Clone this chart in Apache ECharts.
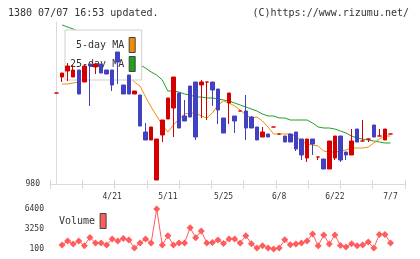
<!DOCTYPE html>
<html>
<head>
<meta charset="utf-8">
<script src="https://cdn.jsdelivr.net/npm/echarts@6/dist/echarts.min.js"></script>
<style>
  html, body { margin: 0; padding: 0; background: #fff; }
  #chart { width: 420px; height: 259px; }
</style>
</head>
<body>
<div id="chart"></div>
<script>
// daily candles, oldest first (red = up, blue = down)
const opens  = [1071,1087,1093,1087,1094,1082,1100,1097,1100,1094,1094,1112,1079,1089,1070,1069,1032,1024,984,1029,1045,1056,1071,1048,1078,1082,1079,1082,1082,1075,1046,1061,1048,1053,1053,1047,1037,1027,1030,1037,1030,1028,1030,1032,1025,1006,1025,1007,1005,995,1006,1028,1012,1009,1035,1023,1025,1039,1028,1024,1030]
const closes = [1071,1091,1098,1094,1070,1098,1098,1100,1091,1090,1079,1102,1070,1070,1073,1038,1024,1037,1025,1044,1066,1087,1036,1043,1047,1027,1082,1082,1074,1054,1031,1071,1043,1053,1036,1036,1024,1032,1027,1037,1030,1022,1022,1015,1009,1025,1020,1007,995,1023,1028,1004,1009,1023,1022,1023,1025,1027,1028,1035,1030]
const lows   = [1071,1082,1083,1087,1070,1082,1058,1090,1091,1090,1073,1080,1070,1070,1070,1038,1024,1024,984,1022,1045,1027,1036,1043,1047,1024,1046,1044,1058,1040,1031,1040,1031,1053,1024,1036,1024,1027,1027,1037,1030,1022,1022,1013,1004,1002,1009,1004,995,995,1004,1002,1004,1009,1022,1023,1022,1027,1028,1024,1030]
const highs  = [1071,1091,1101,1099,1094,1099,1100,1101,1100,1094,1094,1112,1079,1089,1073,1069,1041,1037,1025,1044,1066,1087,1071,1064,1078,1082,1084,1082,1082,1075,1046,1071,1048,1053,1069,1048,1037,1037,1030,1037,1030,1028,1030,1032,1025,1025,1025,1007,1005,1023,1028,1028,1012,1035,1035,1044,1025,1039,1035,1035,1030]

const ma5  = [null,1080,1080,1081,1082,1090,1092,1092,1091,1095,1092,1092,1089,1088,1082,1078,1067,1057,1048,1039,1032,1039,1045,1050,1051,1051,1048,1046,1051,1059,1063,1061,1058,1054,1049,1046,1047,1043,1037,1030,1030,1030,1030,1028,1023,1020,1019,1018,1013,1012,1012,1013,1014,1016,1016,1016,1017,1021,1025,1028,1028]
const ma25 = [null,1139,1137,1135,1132,1129,1126,1124,1121,1118,1115,1112,1109,1106,1103,1099,1096,1092,1089,1084,1073,1073,1072,1070,1069,1067,1067,1066,1066,1065,1064,1063,1061,1059,1057,1055,1053,1050,1048,1048,1046,1046,1044,1044,1044,1044,1041,1037,1036,1036,1035,1033,1031,1028,1026,1025,1024,1023,1022,1021,1021]
const volume = [null,730,1360,890,1360,620,1930,1045,1045,730,1675,1360,1770,1520,260,1045,1675,1045,6400,730,2195,730,1045,1045,3455,1880,2935,1045,1140,1520,980,1675,1675,1045,2195,935,260,620,260,100,260,1565,780,890,1045,1360,2460,620,2305,890,2305,670,415,935,620,730,1200,260,2400,2400,1045]

const dateLabels = ['4/21', '5/11', '5/25', '6/8', '6/22', '7/7']
const dateLabelDay = [10, 20, 30, 40, 50, 60]
const volLabels = [100, 3250, 6400]

const UP = '#d40000'
const DOWN = '#4141c2'
const GRAY = '#dadada'
const MONO = 'DejaVu Sans Mono'

const days = opens.map((_, i) => i)
const candles = days.map(i => {
  const item = { value: [i, opens[i], closes[i], lows[i], highs[i]] }
  if (opens[i] === closes[i]) {
    item.itemStyle = { color: UP, color0: UP, borderColor: UP, borderColor0: UP, borderColorDoji: UP }
  }
  return item
})
const pairs = arr => days.map(i => [i, arr[i]])

const dayMin = -1.17
const dayMax = 62.6

const chart = echarts.init(document.getElementById('chart'))
chart.setOption({
  animation: false,
  title: [
    { text: '1380 07/07 16:53 updated.', left: 8, top: 8, padding: 0,
      textStyle: { fontFamily: MONO, fontSize: 10, fontWeight: 'normal', color: '#333' } },
    { text: '(C)https://www.rizumu.net/', right: 11, top: 8, padding: 0,
      textStyle: { fontFamily: MONO, fontSize: 10, fontWeight: 'normal', color: '#333' } },
  ],
  legend: [
    {
      data: ['5-day MA', '25-day MA'],
      left: 65, top: 30, orient: 'vertical', align: 'right',
      icon: 'rect', itemWidth: 6, itemHeight: 15, itemGap: 3,
      padding: [7, 6, 8, 5],
      backgroundColor: '#fff', borderColor: '#cfcfcf', borderWidth: 1,
      itemStyle: { borderColor: '#444', borderWidth: 1 },
      textStyle: { fontFamily: MONO, fontSize: 10, color: '#333' },
      selectedMode: false, z: 3,
    },
    {
      data: ['Volume'],
      left: 59, top: 213, align: 'right',
      icon: 'rect', itemWidth: 6, itemHeight: 15, padding: 0,
      itemStyle: { borderColor: '#444', borderWidth: 1 },
      textStyle: { fontFamily: MONO, fontSize: 10, color: '#333' },
      selectedMode: false,
    },
  ],
  grid: [
    { left: 50, right: 15, top: 22, height: 162 },
    { left: 50, right: 15, top: 209, height: 40 },
  ],
  xAxis: [
    { // trading days, labels only
      type: 'value', gridIndex: 0, min: dayMin, max: dayMax,
      axisLine: { show: false }, axisTick: { show: false }, splitLine: { show: false },
      axisLabel: {
        customValues: dateLabelDay, margin: 9,
        fontFamily: MONO, fontSize: 8, color: '#333',
        formatter: v => dateLabels[dateLabelDay.indexOf(v)] || '',
      },
    },
    { // frame line and outer ticks
      type: 'value', gridIndex: 0, min: 0, max: 11, interval: 1, position: 'bottom',
      axisLine: { show: true, lineStyle: { color: GRAY } },
      axisTick: { show: true, length: 5, lineStyle: { color: GRAY } },
      axisLabel: { show: false }, splitLine: { show: false },
    },
    { // inner ticks
      type: 'value', gridIndex: 0, min: 0, max: 11, interval: 1, position: 'bottom',
      axisLine: { show: false },
      axisTick: { show: true, inside: true, length: 4, lineStyle: { color: GRAY } },
      axisLabel: { show: false }, splitLine: { show: false },
    },
    {
      type: 'value', gridIndex: 1, min: dayMin, max: dayMax, show: false,
    },
  ],
  yAxis: [
    {
      type: 'value', gridIndex: 0, min: 980, max: 1142,
      axisLine: { show: true, lineStyle: { color: GRAY } },
      axisTick: { show: true, length: 5, customValues: [980], lineStyle: { color: GRAY } },
      axisLabel: { customValues: [980], margin: 10, fontFamily: MONO, fontSize: 8, color: '#333' },
      splitLine: { show: false },
    },
    {
      type: 'value', gridIndex: 1, min: 100, max: 6400,
      axisLine: { show: false }, axisTick: { show: false }, splitLine: { show: false },
      axisLabel: {
        customValues: volLabels, margin: 6, fontFamily: MONO, fontSize: 8, color: '#333',
        formatter: v => String(v),
      },
    },
  ],
  series: [
    {
      name: '25-day MA', type: 'line', xAxisIndex: 0, yAxisIndex: 0,
      data: pairs(ma25), symbol: 'none', color: '#1fa11f',
      lineStyle: { width: 1, color: '#1fa11f' }, z: 2, silent: true,
    },
    {
      name: '5-day MA', type: 'line', xAxisIndex: 0, yAxisIndex: 0,
      data: pairs(ma5), symbol: 'none', color: '#f08c0a',
      lineStyle: { width: 1, color: '#f08c0a' }, z: 2, silent: true,
    },
    {
      name: 'price', type: 'candlestick', xAxisIndex: 0, yAxisIndex: 0,
      data: candles, encode: { x: 0, y: [1, 2, 3, 4] },
      barWidth: 4, z: 5,
      itemStyle: { color: UP, color0: DOWN, borderColor: UP, borderColor0: DOWN, borderWidth: 1 },
    },
    {
      name: 'Volume', type: 'line', xAxisIndex: 3, yAxisIndex: 1,
      data: pairs(volume), symbol: 'diamond', symbolSize: 7, color: '#ff5c5c',
      lineStyle: { width: 1, color: '#ff5c5c' }, itemStyle: { color: '#ff5c5c' },
    },
  ],
})
</script>
</body>
</html>
